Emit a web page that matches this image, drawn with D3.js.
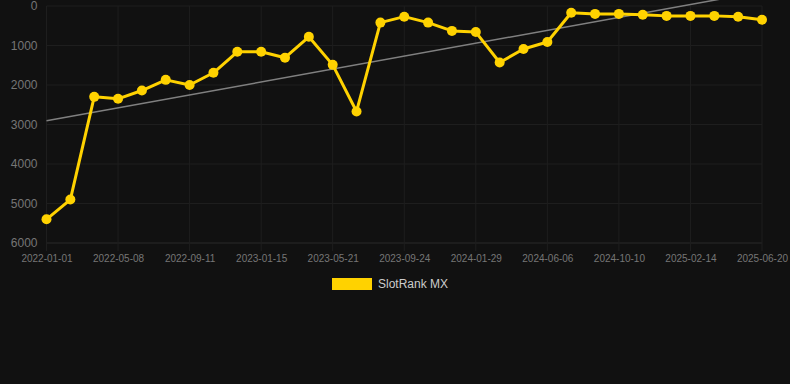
<!DOCTYPE html>
<html>
<head>
<meta charset="UTF-8">
<title>SlotRank MX</title>
<script src="https://cdn.jsdelivr.net/npm/d3@7"></script>
<style>
  body { margin: 0; background: #111111; }
  svg { display: block; }
</style>
</head>
<body>
<div id="chart"></div>
<script>

// data (rank, lower is better)
var seriesName = "SlotRank MX"
var rankValues = [5400, 4900, 2300, 2350, 2140, 1870, 2000, 1690, 1160, 1160,
                  1310, 780, 1490, 2670, 420, 270, 420, 630, 660, 1430,
                  1090, 910, 170, 200, 200, 220, 250, 250, 250, 270, 350]
var tickLabels = ["2022-01-01", "2022-05-08", "2022-09-11", "2023-01-15", "2023-05-21",
                  "2023-09-24", "2024-01-29", "2024-06-06", "2024-10-10", "2025-02-14", "2025-06-20"]
var yTicks = [0, 1000, 2000, 3000, 4000, 5000, 6000]
var trendEnds = [2905, -365]   // trend value at first and last point

// note: "top" is taken by window.top, so plot edges get a prefix
var width = 790, height = 384
var plotLeft = 46.5, plotRight = 762, plotTop = 6, plotBottom = 243

var svg = d3.select("#chart").append("svg")
	.attr("width", width)
	.attr("height", height)

svg.append("rect")
	.attr("width", width)
	.attr("height", height)
	.attr("fill", "#111111")

var x = d3.scaleLinear().domain([0, rankValues.length - 1]).range([plotLeft, plotRight])
var y = d3.scaleLinear().domain([0, 6000]).range([plotTop, plotBottom])

// labelled every third point
var tickIdx = tickLabels.map(function(d, i) { return i * 3 })

// grid
svg.append("g")
	.selectAll("line").data(yTicks).enter()
	.append("line")
	.attr("x1", plotLeft).attr("x2", plotRight)
	.attr("y1", function(d) { return y(d) }).attr("y2", function(d) { return y(d) })
	.attr("stroke", function(d) { return d == 6000 ? "#2a2a2a" : "#1e1e1e" })
	.attr("stroke-width", 1)

svg.append("g")
	.selectAll("line").data(tickIdx).enter()
	.append("line")
	.attr("x1", function(d) { return x(d) }).attr("x2", function(d) { return x(d) })
	.attr("y1", plotTop).attr("y2", plotBottom + 8)
	.attr("stroke", "#1e1e1e")
	.attr("stroke-width", 1)

// axes
var yAxis = svg.append("g")
	.attr("transform", "translate(" + (plotLeft - 9) + ",0)")
	.call(d3.axisLeft(y).tickValues(yTicks).tickSize(0).tickPadding(0).tickFormat(d3.format("d")))
yAxis.select(".domain").remove()
yAxis.selectAll("text")
	.attr("fill", "#767676")
	.attr("font-family", "Arial, 'Liberation Sans', sans-serif")
	.attr("font-size", 12)

var xAxis = svg.append("g")
	.attr("transform", "translate(0," + (plotBottom + 12) + ")")
	.call(d3.axisBottom(x).tickValues(tickIdx).tickSize(0).tickPadding(0)
		.tickFormat(function(d) { return tickLabels[d / 3] }))
xAxis.select(".domain").remove()
xAxis.selectAll("text")
	.attr("fill", "#767676")
	.attr("font-family", "Arial, 'Liberation Sans', sans-serif")
	.attr("font-size", 10)
	.attr("dy", "0.71em")

// trend line
svg.append("line")
	.attr("x1", x(0)).attr("y1", y(trendEnds[0]))
	.attr("x2", x(rankValues.length - 1)).attr("y2", y(trendEnds[1]))
	.attr("stroke", "#808080")
	.attr("stroke-width", 1.5)

// series
var line = d3.line()
	.x(function(d, i) { return x(i) })
	.y(function(d) { return y(d) })

svg.append("path")
	.datum(rankValues)
	.attr("d", line)
	.attr("fill", "none")
	.attr("stroke", "#ffd200")
	.attr("stroke-width", 3)
	.attr("stroke-linejoin", "round")

svg.append("g")
	.selectAll("circle").data(rankValues).enter()
	.append("circle")
	.attr("cx", function(d, i) { return x(i) })
	.attr("cy", function(d) { return y(d) })
	.attr("r", 5)
	.attr("fill", "#ffd200")

// legend
var legend = svg.append("g").attr("transform", "translate(332,278)")
legend.append("rect")
	.attr("width", 40).attr("height", 12)
	.attr("fill", "#ffd200")
legend.append("text")
	.attr("x", 46).attr("y", 6)
	.attr("dy", "0.35em")
	.attr("fill", "#cccccc")
	.attr("font-family", "Arial, 'Liberation Sans', sans-serif")
	.attr("font-size", 12)
	.text(seriesName)

</script>
</body>
</html>
